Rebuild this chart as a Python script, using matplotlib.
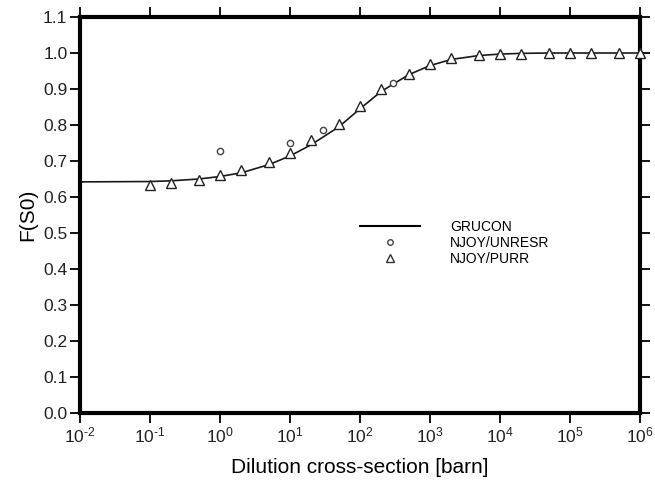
import matplotlib
matplotlib.use("Agg")
import matplotlib.pyplot as plt
from matplotlib.lines import Line2D

plt.rcParams['font.family'] = ['Liberation Sans', 'DejaVu Sans']
plt.rcParams['mathtext.fontset'] = 'custom'
plt.rcParams['mathtext.rm'] = 'Liberation Sans'
plt.rcParams['mathtext.it'] = 'Liberation Sans:italic'
plt.rcParams['mathtext.bf'] = 'Liberation Sans:bold'

# GRUCON reference curve
grucon_x = [1e-2, 1e-1, 2e-1, 5e-1, 1, 2, 5, 10, 20, 50, 100, 200, 500,
            1e3, 2e3, 5e3, 1e4, 2e4, 5e4, 1e5, 2e5, 5e5, 1e6]
grucon_y = [0.642, 0.643, 0.645, 0.650, 0.657, 0.667, 0.690, 0.714, 0.745,
            0.795, 0.845, 0.893, 0.940, 0.965, 0.982, 0.993, 0.997, 0.999,
            1.000, 1.000, 1.000, 1.000, 1.000]

# NJOY/UNRESR points
unresr_x = [1, 10, 30, 300]
unresr_y = [0.728, 0.750, 0.786, 0.917]

# NJOY/PURR points
purr_x = [1e-1, 2e-1, 5e-1, 1, 2, 5, 10, 20, 50, 100, 200, 500,
          1e3, 2e3, 5e3, 1e4, 2e4, 5e4, 1e5, 2e5, 5e5, 1e6]
purr_y = [0.634, 0.639, 0.647, 0.661, 0.675, 0.697, 0.722, 0.758, 0.802,
          0.852, 0.900, 0.942, 0.969, 0.985, 0.994, 0.997, 0.998, 0.999,
          0.999, 0.999, 0.999, 0.999]

xticks = [1e-2, 1e-1, 1, 10, 1e2, 1e3, 1e4, 1e5, 1e6]
xtick_labels = ['$10^{\u2010 2}$', '$10^{\u2010 1}$', r'$10^{0}$', r'$10^{1}$', r'$10^{2}$',
                r'$10^{3}$', r'$10^{4}$', r'$10^{5}$', r'$10^{6}$']
yticks = [0.0, 0.1, 0.2, 0.3, 0.4, 0.5, 0.6, 0.7, 0.8, 0.9, 1.0, 1.1]

fig = plt.figure(figsize=(6.55, 4.83), dpi=100)
ax = fig.add_axes([0.1221, 0.1449, 0.8550, 0.8199])

ax.plot(grucon_x, grucon_y, color='#1a1a1a', lw=1.2, zorder=2)
ax.plot(unresr_x, unresr_y, ls='none', marker='o', ms=4.5, mfc='white',
        mec='#444444', mew=1.0, zorder=3)
ax.plot(purr_x, purr_y, ls='none', marker='^', ms=7, mfc='white',
        mec='#222222', mew=1.0, zorder=3, clip_on=False)

ax.set_xscale('log')
ax.set_xlim(1e-2, 1e6)
ax.set_ylim(0.0, 1.1)
ax.set_xticks(xticks)
ax.set_xticklabels(xtick_labels)
ax.xaxis.set_minor_locator(matplotlib.ticker.NullLocator())
ax.set_yticks(yticks)
ax.set_yticklabels([f'{v:.1f}' for v in yticks])

for s in ax.spines.values():
    s.set_linewidth(3.0)
ax.tick_params(which='major', direction='out', length=7, width=1.3,
               top=True, right=True, labelsize=12.5, color='black',
               labelcolor='#222222', pad=2)

ax.set_xlabel('Dilution cross-section [barn]', fontsize=15, labelpad=9)
ax.set_ylabel('F(S0)', fontsize=15, labelpad=4)

handles = [
    Line2D([], [], color='black', lw=1.5),
    Line2D([], [], ls='none', marker='o', ms=4, mfc='white', mec='#444444', mew=1.0),
    Line2D([], [], ls='none', marker='^', ms=6, mfc='white', mec='#333333', mew=1.0),
]
labels = ['GRUCON', 'NJOY/UNRESR', 'NJOY/PURR']
ax.legend(handles, labels, loc='upper left', bbox_to_anchor=(0.5, 0.488),
          frameon=False, fontsize=10, handlelength=4.3, handletextpad=2.2,
          labelspacing=0.15, numpoints=1, borderaxespad=0, borderpad=0)

fig.savefig('out.png', dpi=100)
